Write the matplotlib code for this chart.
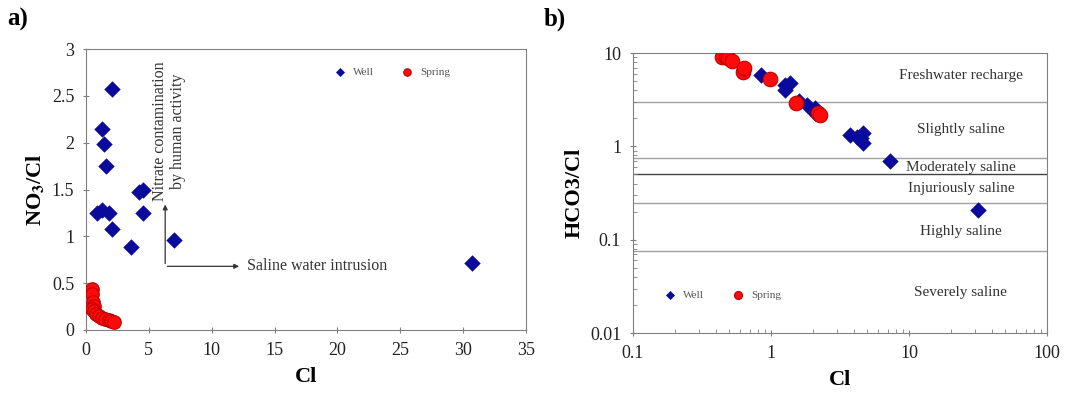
# Cl との関係: a) NO3/Cl, b) HCO3/Cl

import matplotlib
matplotlib.use("Agg")
import matplotlib.pyplot as plt
from matplotlib.ticker import FormatStrFormatter, LogLocator, NullFormatter

# データ a) NO3/Cl
a_well_cl = [0.9, 1.3, 1.3, 1.4, 1.6, 1.8, 2.1, 2.1, 3.6, 4.2, 4.5, 4.5, 7.0, 30.7]
a_well_no3 = [1.25, 2.15, 1.28, 1.99, 1.75, 1.25, 2.57, 1.08, 0.89, 1.47, 1.50, 1.25, 0.96, 0.72]
a_spring_cl = [0.45, 0.5, 0.55, 0.6, 0.5, 0.65, 0.8, 1.0, 1.3, 1.5, 1.8, 2.0, 2.2]
a_spring_no3 = [0.44, 0.38, 0.30, 0.26, 0.22, 0.20, 0.17, 0.15, 0.13, 0.12, 0.11, 0.10, 0.08]

# データ b) HCO3/Cl
b_well_cl = [0.84, 1.27, 1.37, 1.27, 1.59, 1.82, 2.1, 2.08, 3.72, 4.17, 4.46, 4.65, 4.65, 7.23, 31.6]
b_well_hco3 = [5.8, 4.5, 4.8, 4.0, 3.1, 2.77, 2.55, 2.26, 1.32, 1.27, 1.22, 1.40, 1.09, 0.70, 0.21]
b_spring_cl = [0.44, 0.47, 0.49, 0.52, 0.63, 0.64, 0.98, 1.51, 2.2, 2.26]
b_spring_hco3 = [9.0, 9.1, 8.8, 8.3, 6.2, 6.85, 5.3, 2.93, 2.3, 2.17]

# 塩水化の区分
zone_limits = [3, 0.75, 0.5, 0.25, 0.075]
zone_names = ["Freshwater recharge", "Slightly saline", "Moderately saline",
              "Injuriously saline", "Highly saline", "Severely saline"]
zone_label_y = [5.8, 1.5, 0.6, 0.357, 0.121, 0.027]

# グラフ設定
plt.rcParams["font.family"] = ["Liberation Serif", "DejaVu Serif"]
plt.rcParams["mathtext.fontset"] = "stix"
plt.rcParams["axes.edgecolor"] = "#808080"
plt.rcParams["xtick.color"] = "#808080"
plt.rcParams["ytick.color"] = "#808080"
plt.rcParams["xtick.labelcolor"] = "#222222"
plt.rcParams["ytick.labelcolor"] = "#222222"

well_c = "#0a0a9c"
spring_c = "#ff0a0a"
spring_ec = "#c00000"
txt_c = "#333333"

fig = plt.figure(figsize=(10.83, 3.96), dpi=100)
ax1 = fig.add_axes([0.0794, 0.1667, 0.4063, 0.7093])
ax2 = fig.add_axes([0.5845, 0.159, 0.3823, 0.707])

# --- a) ---
ax1.scatter(a_well_cl, a_well_no3, marker="D", s=70, color=well_c, lw=0, label="Well", zorder=3)
ax1.scatter(a_spring_cl, a_spring_no3, marker="o", s=95, color=spring_c, edgecolor=spring_ec,
            lw=0.8, label="Spring", zorder=3)
ax1.set_xlim(0, 35)
ax1.set_ylim(0, 3)
ax1.set_xticks(range(0, 36, 5))
ax1.set_yticks([0, 0.5, 1, 1.5, 2, 2.5, 3])
ax1.yaxis.set_major_formatter(FormatStrFormatter("%g"))
ax1.tick_params(labelsize=13, length=5, direction="inout", pad=6)
ax1.set_xlabel("Cl", fontsize=16, fontweight="bold", labelpad=6)
ax1.set_ylabel(r"NO$_\mathbf{3}$/Cl", fontsize=16, fontweight="bold", labelpad=4)

# 矢印
ax1.annotate("", xy=(6.3, 1.37), xytext=(6.3, 0.68),
             arrowprops=dict(arrowstyle="-|>", color=txt_c, lw=0.9, mutation_scale=7))
ax1.annotate("", xy=(12.4, 0.68), xytext=(6.25, 0.68),
             arrowprops=dict(arrowstyle="-|>", color=txt_c, lw=0.9, mutation_scale=7))
ax1.text(12.8, 0.68, "Saline water intrusion", fontsize=11.5, va="center", ha="left", color=txt_c)
ax1.text(6.6, 1.38, "Nitrate contamination\nby human activity", fontsize=11.5, rotation=90,
         va="bottom", ha="center", multialignment="center", color=txt_c, linespacing=1.15)

ax1.legend(loc="center", bbox_to_anchor=(0.69, 0.918), ncol=2, frameon=False, fontsize=8,
           markerscale=0.55, handletextpad=0.2, columnspacing=2.0, labelcolor="#555555")

# --- b) ---
for v in zone_limits:
    ax2.axhline(v, color="#444444" if v == 0.5 else "#a0a0a0", lw=1.0, zorder=1)
for name, yv in zip(zone_names, zone_label_y):
    ax2.text(0.792, yv, name, transform=ax2.get_yaxis_transform(), fontsize=11,
             ha="center", va="center", color=txt_c)

ax2.scatter(b_well_cl, b_well_hco3, marker="D", s=70, color=well_c, lw=0, label="Well", zorder=3)
ax2.scatter(b_spring_cl, b_spring_hco3, marker="o", s=110, color=spring_c, edgecolor=spring_ec,
            lw=0.8, label="Spring", zorder=3)
ax2.set_xscale("log")
ax2.set_yscale("log")
ax2.set_xlim(0.1, 100)
ax2.set_ylim(0.01, 10)
ax2.xaxis.set_major_formatter(FormatStrFormatter("%g"))
ax2.yaxis.set_major_formatter(FormatStrFormatter("%g"))
ax2.xaxis.set_minor_locator(LogLocator(subs=range(2, 10)))
ax2.yaxis.set_minor_locator(LogLocator(subs=range(2, 10)))
ax2.xaxis.set_minor_formatter(NullFormatter())
ax2.yaxis.set_minor_formatter(NullFormatter())
ax2.tick_params(labelsize=13, length=5, direction="inout", pad=6)
ax2.tick_params(which="minor", length=3, direction="in")
ax2.set_xlabel("Cl", fontsize=16, fontweight="bold", labelpad=6)
ax2.set_ylabel("HCO3/Cl", fontsize=16, fontweight="bold", labelpad=4)

ax2.legend(loc="center", bbox_to_anchor=(0.21, 0.135), ncol=2, frameon=False, fontsize=8,
           markerscale=0.55, handletextpad=0.2, columnspacing=2.0, labelcolor="#555555")

# パネル記号
fig.text(0.007, 0.952, "a)", fontsize=18, fontweight="bold", va="center", ha="left")
fig.text(0.502, 0.952, "b)", fontsize=18, fontweight="bold", va="center", ha="left")

fig.savefig("out.png", dpi=100)
